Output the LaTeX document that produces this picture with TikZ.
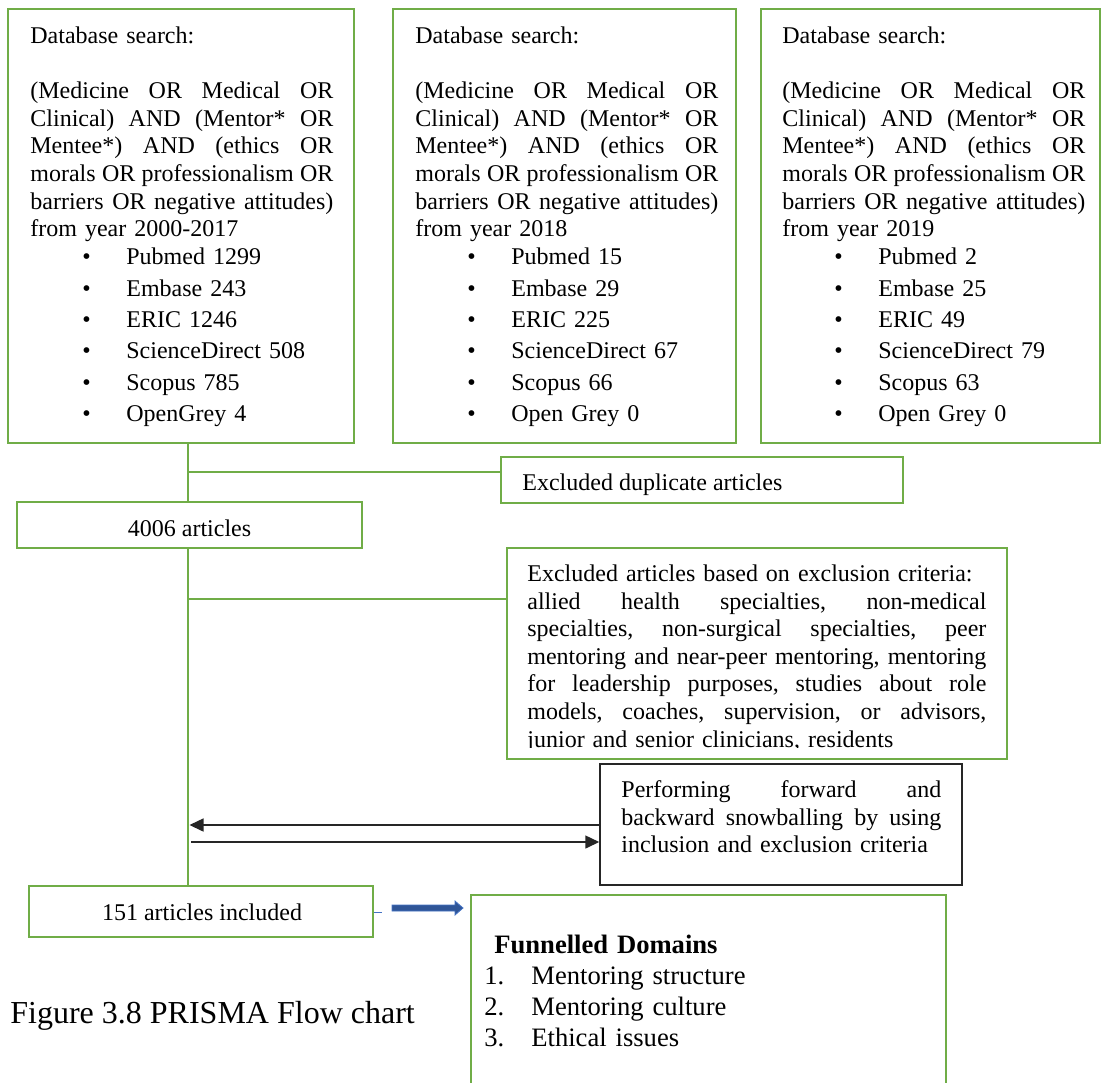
\documentclass[tikz,border=0pt]{standalone}
\usepackage{fontspec}
\setmainfont{Liberation Serif}
\usetikzlibrary{fit,arrows.meta}
\definecolor{wgreen}{HTML}{70AD47}
\definecolor{ablue}{HTML}{2F5597}
\definecolor{aedge}{HTML}{4472C4}
\newcommand\js{\hskip 0.25em plus 1fill\relax}
\newcommand\jl[2]{\leavevmode\hbox to #1{#2}\par}
\newcommand\bulitem[2]{\setlength\baselineskip{#1}\hspace*{26pt}\makebox[22pt][l]{\textbullet}#2\par}
\newcommand\firstrule{\rule{0pt}{10pt}}
\newcommand\wdb{151.5pt}
\newcommand\wexc{229.5pt}
\newcommand\wperf{160pt}
\newcommand\querytext{%
\jl\wdb{(Medicine\js OR\js Medical\js OR}
\jl\wdb{Clinical)\js AND\js (Mentor*\js OR}
\jl\wdb{Mentee*)\js AND\js (ethics\js OR}
\jl\wdb{morals\js OR\js professionalism\js OR}
\jl\wdb{barriers\js OR\js negative\js attitudes)}}
\begin{document}
\begin{tikzpicture}[x=0.5pt,y=-0.5pt,
  gbox/.style={draw=wgreen, line width=1.35pt, inner sep=0pt, rectangle},
  kbox/.style={draw=black!85, line width=0.75pt, inner sep=0pt, rectangle},
  gline/.style={draw=wgreen, line width=1.35pt},
  karrow/.style={draw=black!85, line width=0.75pt, -{Triangle[length=7pt,width=6.5pt]}},
  txt/.style={inner sep=0pt, anchor=north west, align=left, font=\fontsize{12pt}{13.8pt}\selectfont},
  lbl/.style={inner sep=0pt, font=\fontsize{12pt}{13.8pt}\selectfont}]
\useasboundingbox (0,0) rectangle (1102,1082);
\clip (0,0) rectangle (1102,1082);
\fill[white] (0,0) rectangle (1102,1082);

% boxes
\node[gbox, fit={(8,9) (354,443)}] (b1) {};
\node[gbox, fit={(393,9) (736,443)}] (b2) {};
\node[gbox, fit={(761,9) (1100,443)}] (b3) {};
\node[gbox, fit={(501,457) (903,503)}] (dup) {};
\node[gbox, fit={(17,502) (362,548)}] (n4006) {};
\node[gbox, fit={(507,548) (1007,759)}] (exc) {};
\node[kbox, fit={(600,764) (962,885)}] (perf) {};
\node[gbox, fit={(29,886) (373,937)}] (n151) {};
\node[gbox, fit={(471,895) (946,1120)}] (fun) {};

% database texts
\node[txt, text width=\wdb] (t1) at (30,23) {\firstrule Database search:\par\vspace{13.8pt}
\querytext
from year 2000-2017\par
\bulitem{14pt}{Pubmed 1299}
\bulitem{15.7pt}{Embase 243}
\bulitem{15.7pt}{ERIC 1246}
\bulitem{15.7pt}{ScienceDirect 508}
\bulitem{15.7pt}{Scopus 785}
\bulitem{15.7pt}{OpenGrey 4}};

\node[txt, text width=\wdb] (t2) at (415,23) {\firstrule Database search:\par\vspace{13.8pt}
\querytext
from year 2018\par
\bulitem{14pt}{Pubmed 15}
\bulitem{15.7pt}{Embase 29}
\bulitem{15.7pt}{ERIC 225}
\bulitem{15.7pt}{ScienceDirect 67}
\bulitem{15.7pt}{Scopus 66}
\bulitem{15.7pt}{Open Grey 0}};

\node[txt, text width=\wdb] (t3) at (782,23) {\firstrule Database search:\par\vspace{13.8pt}
\querytext
from year 2019\par
\bulitem{14pt}{Pubmed 2}
\bulitem{15.7pt}{Embase 25}
\bulitem{15.7pt}{ERIC 49}
\bulitem{15.7pt}{ScienceDirect 79}
\bulitem{15.7pt}{Scopus 63}
\bulitem{15.7pt}{Open Grey 0}};

% single-line labels
\node[lbl, anchor=base west] (tdup) at (522,490) {Excluded duplicate articles};
\node[lbl, anchor=base] (t4006) at (189.5,536) {4006 articles};
\node[lbl, anchor=base] (t151) at (202,920) {151 articles included};

% exclusion criteria text (clipped at the bottom as in the original)
\begin{scope}
\clip (507,548) rectangle (1007,747);
\node[txt, text width=\wexc] (texc) at (527,561) {\firstrule Excluded articles based on exclusion criteria:\par
\jl\wexc{allied\js health\js specialties,\js non-medical}
\jl\wexc{specialties,\js non-surgical\js specialties,\js peer}
\jl\wexc{mentoring\js and\js near-peer\js mentoring,\js mentoring}
\jl\wexc{for\js leadership\js purposes,\js studies\js about\js role}
\jl\wexc{models,\js coaches,\js supervision,\js or\js advisors,}
junior and senior clinicians, residents\par};
\end{scope}

% snowballing text
\node[txt, text width=\wperf] (tperf) at (621,777) {\firstrule\jl\wperf{Performing\js forward\js and}
\jl\wperf{backward\js snowballing\js by\js using}
inclusion and exclusion criteria\par};

% funnelled domains text
\node[txt, text width=220pt, font=\fontsize{13.3pt}{15.5pt}\selectfont] (tfun) at (484,933) {\firstrule\hspace*{5pt}\textbf{Funnelled Domains}\par
\setlength\baselineskip{15.5pt}\makebox[23.5pt][l]{1.}Mentoring structure\par
\makebox[23.5pt][l]{2.}Mentoring culture\par
\makebox[23.5pt][l]{3.}Ethical issues\par};

% caption
\node[anchor=base west, inner sep=0pt, font=\fontsize{16pt}{19pt}\selectfont] (cap) at (10,1023) {Figure 3.8 PRISMA Flow chart};

% trunk and branches
\coordinate (j1) at (188,472);
\coordinate (j2) at (188,599);
\draw[gline] (b1.south -| j1) -- (n4006.north -| j1);
\draw[gline] (j1) -- (j1 -| dup.west);
\draw[gline] (n4006.south -| j1) -- (n151.north -| j1);
\draw[gline] (j2) -- (j2 -| exc.west);

% snowballing arrows
\coordinate (a1) at (189.5,825);
\coordinate (a2) at (191,842);
\draw[karrow] (a1 -| perf.west) -- (a1);
\draw[karrow] (a2) -- (a2 -| perf.west);

% blue tick and block arrow
\coordinate (bt) at (382,912);
\draw[aedge, line width=0.5pt] (bt -| n151.east) -- (bt);
\filldraw[fill=ablue, draw=aedge, line width=0.4pt] (392,905) -- (455,905) -- (455,901) -- (463,908) -- (455,915) -- (455,911) -- (392,911) -- cycle;
\end{tikzpicture}
\end{document}
